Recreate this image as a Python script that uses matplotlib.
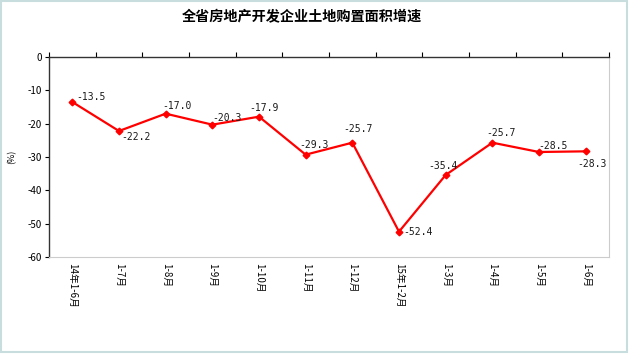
import matplotlib.pyplot as plt
from matplotlib.patches import Rectangle

plt.rcParams['font.family'] = ['Noto Sans CJK SC', 'DejaVu Sans']

categories = ['14年1-6月', '1-7月', '1-8月', '1-9月', '1-10月', '1-11月', '1-12月',
              '15年1-2月', '1-3月', '1-4月', '1-5月', '1-6月']
values = [-13.5, -22.2, -17.0, -20.3, -17.9, -29.3, -25.7, -52.4, -35.4, -25.7, -28.5, -28.3]
yticks = [0, -10, -20, -30, -40, -50, -60]

# label offsets in pixels from the point to the label's left edge / vertical centre
label_offsets = [(4, 5), (2, -6), (-3, 8), (0, 7), (-10, 9), (-6, 10), (-9, 14),
                 (4, 0), (-17, 9), (-6, 10), (-1, 6), (-8, -13)]

fig = plt.figure(figsize=(6.3, 3.57), dpi=100)
ax = fig.add_axes([49 / 630, 1 - 257 / 357, 560 / 630, 200 / 357])

x = list(range(len(categories)))
ax.plot(x, values, color='#ff0000', lw=1.6, marker='D', ms=3.4, zorder=3)

for i, v in enumerate(values):
    dx, dy = label_offsets[i]
    ax.annotate(f'{v:.1f}', (i, v), xytext=(dx, dy), textcoords='offset pixels',
                ha='left', va='center', fontsize=7,
                family=['DejaVu Sans Mono'], color='#1a1a1a')

ax.set_xlim(-0.5, len(categories) - 0.5)
ax.set_ylim(-60, 0)
ax.set_yticks(yticks)
ax.set_yticklabels([str(t) for t in yticks], fontsize=7)
ax.tick_params(axis='y', length=3, width=0.8, pad=2)

# category axis sits at the top (value 0), labels below the plot area
ax.set_xticks([i + 0.5 for i in range(-1, len(categories))])
ax.set_xticklabels([])
ax.tick_params(axis='x', direction='out', length=3.5, width=0.8, top=True, bottom=False,
               labeltop=False, labelbottom=False)
for i, c in enumerate(categories):
    ax.annotate(c, (i, -60), xytext=(0, -6), textcoords='offset pixels',
                rotation=270, ha='center', va='top', fontsize=7)

for s in ['left', 'top']:
    ax.spines[s].set_color('#333333')
    ax.spines[s].set_linewidth(1.0)
for s in ['right', 'bottom']:
    ax.spines[s].set_color('#cccccc')
    ax.spines[s].set_linewidth(0.8)

ax.set_ylabel('(%)', fontsize=6.5, labelpad=8)
fig.text(302 / 630, 1 - 17 / 357, '全省房地产开发企业土地购置面积增速', ha='center',
         va='center', fontsize=10.2, fontweight='bold')

fig.patches.append(Rectangle((0.002, 0.015), 0.993, 0.983, transform=fig.transFigure,
                             fill=False, edgecolor='#c8dede', lw=1.5))

fig.savefig('out.png', dpi=100)
